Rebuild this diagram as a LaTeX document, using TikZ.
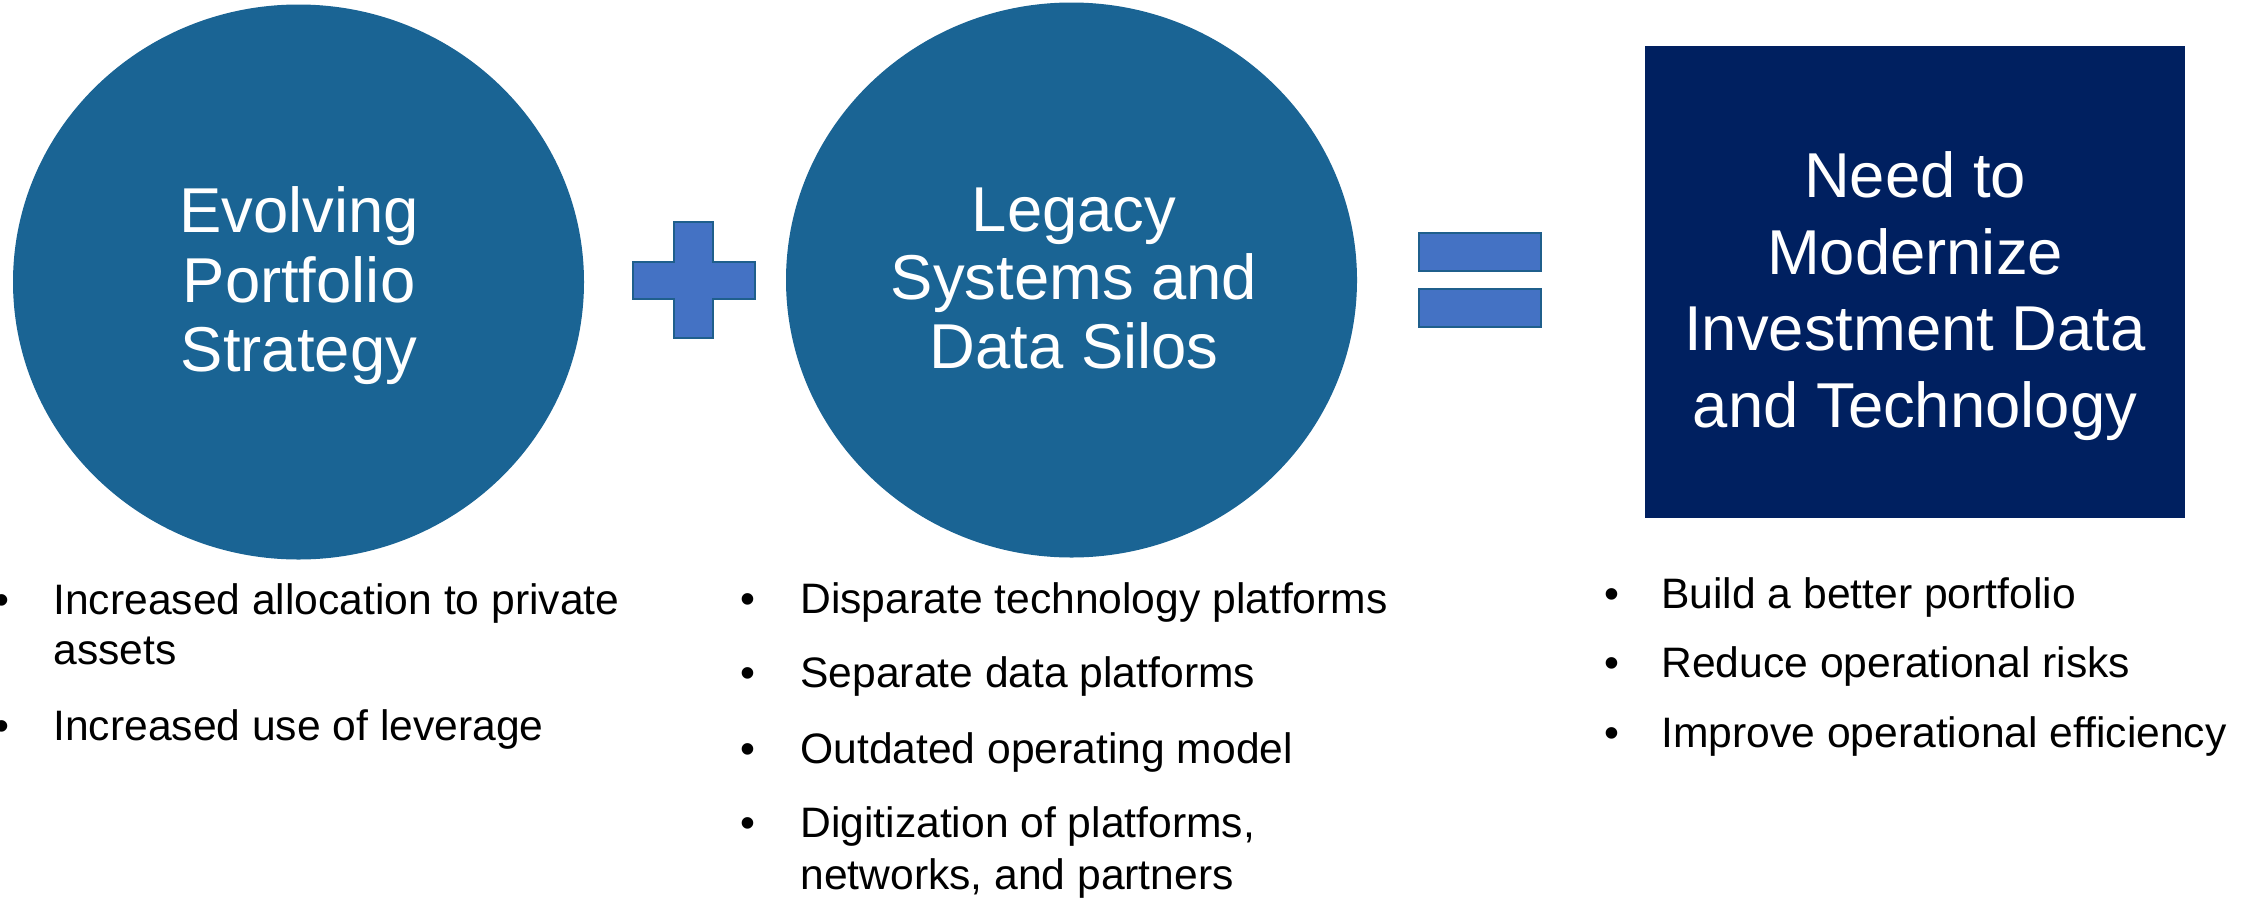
\documentclass[tikz,border=0pt]{standalone}
\usepackage{fontspec}
\setmainfont{Liberation Sans}
\usetikzlibrary{shapes.geometric}
\definecolor{circblue}{HTML}{1A6494}
\definecolor{navy}{HTML}{002060}
\definecolor{signfill}{HTML}{4472C4}
\definecolor{signedge}{HTML}{1F5F8C}
\tikzset{
  bigcirc/.style={ellipse, fill=circblue, draw=none, inner sep=0pt,
    minimum width=285.5pt, minimum height=277.5pt},
  wt/.style={font=\fontsize{31.7}{36}\selectfont, text=white, anchor=base, inner sep=0pt},
  bt/.style={font=\fontsize{21.3}{25}\selectfont, text=black, anchor=base west, inner sep=0pt},
  bul/.style={font=\fontsize{21.3}{25}\selectfont, text=black, anchor=base, inner sep=0pt},
  sign/.style={fill=signfill, draw=signedge, line width=1pt}
}
\begin{document}
\begin{tikzpicture}[x=0.5pt, y=-0.5pt]
\useasboundingbox[fill=white] (0,0) rectangle (2252,900);

% circles
\node[bigcirc] (c1) at (298.5,282) {};
\node[bigcirc] (c2) at (1071.5,280) {};

% rectangle
\node[fill=navy, draw=none, inner sep=0pt, minimum width=270pt, minimum height=236pt] (r) at (1915,282) {};

% circle 1 text
\node[wt] (c1a) at (299,232) {Evolving};
\node[wt] (c1b) at (299,302) {Portfolio};
\node[wt] (c1c) at (299,371) {Strategy};

% circle 2 text
\node[wt] (c2a) at (1074,231) {Legacy};
\node[wt] (c2b) at (1074,299) {Systems and};
\node[wt] (c2c) at (1074,368) {Data Silos};

% rectangle text
\node[wt] (r1) at (1915,197) {Need to};
\node[wt] (r2) at (1915,274) {Modernize};
\node[wt] (r3) at (1915,350) {Investment Data};
\node[wt] (r4) at (1915,427) {and Technology};

% plus sign
\draw[sign] (674,222) -- (713,222) -- (713,262) -- (755,262) -- (755,299) -- (713,299)
  -- (713,338) -- (674,338) -- (674,299) -- (633,299) -- (633,262) -- (674,262) -- cycle;

% equals sign
\draw[sign] (1419,233) rectangle (1541,271);
\draw[sign] (1419,289) rectangle (1541,327);

% column 1 bullets
\node[bul] (b11) at (2,614) {•};
\node[bt] (t11) at (53,614) {Increased allocation to private};
\node[bt] (t11b) at (53,664) {assets};
\node[bul] (b12) at (2,740) {•};
\node[bt] (t12) at (53,740) {Increased use of leverage};

% column 2 bullets
\node[bul] (b21) at (748,613) {•};
\node[bt] (t21) at (800,613) {Disparate technology platforms};
\node[bul] (b22) at (748,687) {•};
\node[bt] (t22) at (800,687) {Separate data platforms};
\node[bul] (b23) at (748,763) {•};
\node[bt] (t23) at (800,763) {Outdated operating model};
\node[bul] (b24) at (748,837) {•};
\node[bt] (t24) at (800,837) {Digitization of platforms,};
\node[bt] (t24b) at (800,889) {networks, and partners};

% column 3 bullets
\node[bul] (b31) at (1612,608) {•};
\node[bt] (t31) at (1661,608) {Build a better portfolio};
\node[bul] (b32) at (1612,677) {•};
\node[bt] (t32) at (1661,677) {Reduce operational risks};
\node[bul] (b33) at (1612,747) {•};
\node[bt] (t33) at (1661,747) {Improve operational efficiency};
\end{tikzpicture}
\end{document}
